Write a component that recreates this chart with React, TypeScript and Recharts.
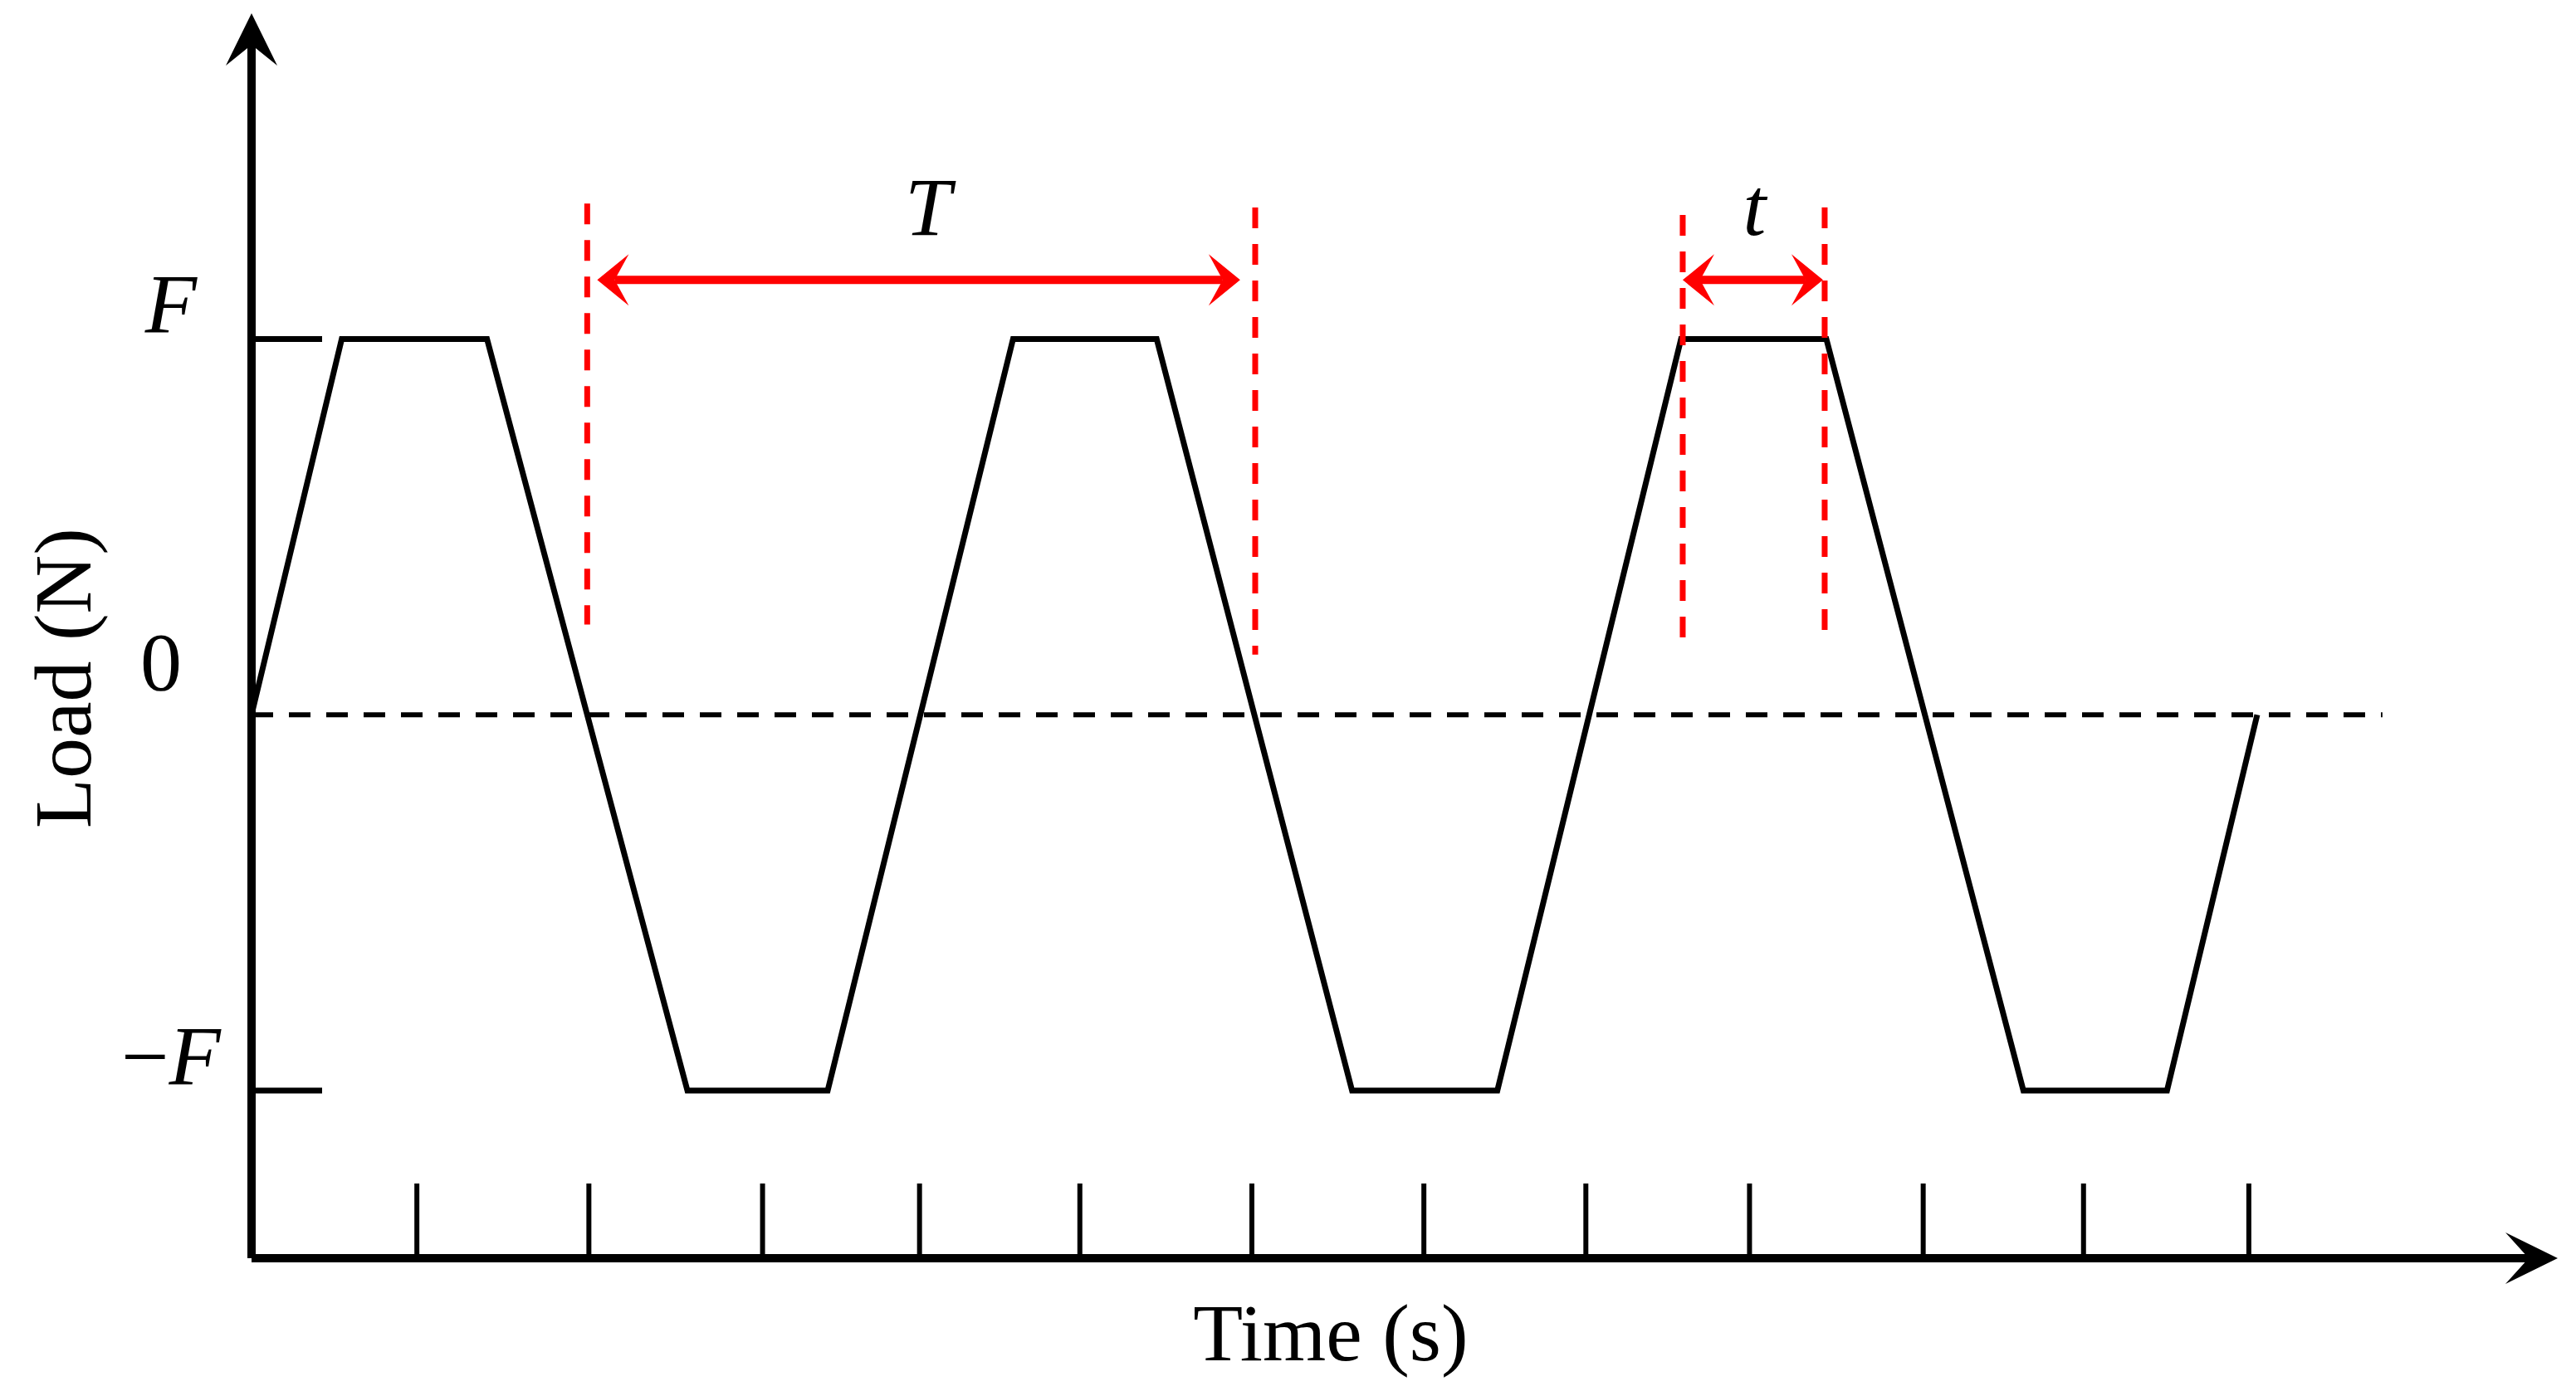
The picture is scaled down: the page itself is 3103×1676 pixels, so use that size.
import { LineChart, Line, XAxis, YAxis, ReferenceLine, ReferenceDot } from 'recharts';

// waveform corners (time in tick units, load in units of F)
const timeX = [0, 0.54, 1.41, 2.61, 3.45, 4.56, 5.42, 6.59, 7.46, 8.56, 9.43, 10.61, 11.47, 12.01];
const loadY = [0, 1, 1, -1, -1, 1, 1, -1, -1, 1, 1, -1, -1, 0];

// hand-drawn tick marks, slightly uneven in the original
const timeTicks = [0.99, 2.02, 3.06, 4.0, 4.96, 5.99, 7.02, 7.99, 8.97, 10.01, 10.97, 11.96];
const loadTicks = [-1, 1];
const loadLabelValues = [1, 0, -1];
const zeroLineEnd = 12.76;

// red dashed guides
const guideX = [2.01, 6.01, 8.57, 9.42];
const guideTop = [1.36, 1.35, 1.33, 1.35];
const guideBottom = [0.24, 0.16, 0.2, 0.2];

// red double arrows T and t
const spanNames = ['T', 't'];
const spanStart = [2.07, 8.57];
const spanEnd = [5.92, 9.41];
const spanY = 1.157;
const spanLabelX = [4.05, 9.0];
const spanLabelY = 1.276;

const xDomain = [0, 13.75];
const yDomain = [-1.446, 1.84];

const data = timeX.map((t, i) => ({ time: t, load: loadY[i] }));

const FONT = '"Liberation Serif", "Times New Roman", serif';
const RED = '#ff0000';

function LoadTick(props: any) {
  const { x, y, payload } = props;
  const v = payload.value;
  if (v === 0) {
    return (
      <text x={x - 109} y={y - 30} textAnchor="middle" fontFamily={FONT} fontSize={100} fill="#000">
        0
      </text>
    );
  }
  return (
    <text x={x - 97} y={y - 7} textAnchor="middle" fontFamily={FONT} fontSize={102} fill="#000">
      {v < 0 && <tspan>−</tspan>}
      <tspan fontStyle="italic">F</tspan>
    </text>
  );
}

function DoubleArrow(props: any) {
  const { x1, y1, x2 } = props;
  const len = 38;
  const half = 31;
  const notch = 21;
  const y = y1;
  return (
    <g>
      <line x1={x1 + notch} y1={y} x2={x2 - notch} y2={y} stroke={RED} strokeWidth={10} />
      <polygon
        points={`${x1},${y} ${x1 + len},${y - half} ${x1 + notch},${y} ${x1 + len},${y + half}`}
        fill={RED}
      />
      <polygon
        points={`${x2},${y} ${x2 - len},${y - half} ${x2 - notch},${y} ${x2 - len},${y + half}`}
        fill={RED}
      />
    </g>
  );
}

function UpArrow(props: any) {
  const { cx, cy } = props;
  const tip = cy - 12;
  return (
    <polygon
      points={`${cx},${tip} ${cx + 31},${tip + 63} ${cx},${tip + 38} ${cx - 31},${tip + 63}`}
      fill="#000"
    />
  );
}

function RightArrow(props: any) {
  const { cx, cy } = props;
  const tip = cx + 12;
  return (
    <polygon
      points={`${tip},${cy} ${tip - 63},${cy - 31} ${tip - 35},${cy} ${tip - 63},${cy + 31}`}
      fill="#000"
    />
  );
}

function SpanLabel(name: string) {
  return (props: any) => (
    <text
      x={props.cx}
      y={props.cy}
      textAnchor="middle"
      fontFamily={FONT}
      fontStyle="italic"
      fontSize={100}
      fill="#000"
    >
      {name}
    </text>
  );
}

export default function App() {
  return (
    <div style={{ position: 'fixed', left: 0, top: 0, width: 3103, height: 1676, background: '#fff' }}>
      <LineChart
        width={3103}
        height={1676}
        data={data}
        margin={{ top: 28, right: 34, bottom: 160, left: 0 }}
      >
        <XAxis
          type="number"
          dataKey="time"
          domain={xDomain}
          allowDataOverflow
          ticks={timeTicks}
          interval={0}
          mirror
          tickSize={90}
          tickLine={{ stroke: '#000', strokeWidth: 6 }}
          axisLine={{ stroke: '#000', strokeWidth: 10 }}
          tickFormatter={() => ''}
        />
        <YAxis
          yAxisId="labels"
          type="number"
          domain={yDomain}
          allowDataOverflow
          ticks={loadLabelValues}
          interval={0}
          width={303}
          axisLine={false}
          tickLine={false}
          tickSize={0}
          tickMargin={0}
          tick={LoadTick}
        />
        <YAxis
          yAxisId="main"
          type="number"
          domain={yDomain}
          allowDataOverflow
          ticks={loadTicks}
          interval={0}
          mirror
          tickSize={85}
          tickLine={{ stroke: '#000', strokeWidth: 7 }}
          axisLine={{ stroke: '#000', strokeWidth: 10 }}
          tickFormatter={() => ''}
        />

        <ReferenceLine
          yAxisId="main"
          segment={[{ x: 0, y: 0 }, { x: zeroLineEnd, y: 0 }]}
          stroke="#000"
          strokeWidth={6}
          strokeDasharray="26 19"
          ifOverflow="visible"
        />

        <Line
          yAxisId="main"
          type="linear"
          dataKey="load"
          stroke="#000"
          strokeWidth={7}
          dot={false}
          activeDot={false}
          isAnimationActive={false}
        />

        {guideX.map((gx, i) => (
          <ReferenceLine
            key={`g${i}`}
            yAxisId="main"
            segment={[{ x: gx, y: guideTop[i] }, { x: gx, y: guideBottom[i] }]}
            stroke={RED}
            strokeWidth={7}
            strokeDasharray="25 19"
            ifOverflow="visible"
          />
        ))}

        {spanNames.map((name, i) => (
          <ReferenceLine
            key={`s${i}`}
            yAxisId="main"
            segment={[{ x: spanStart[i], y: spanY }, { x: spanEnd[i], y: spanY }]}
            ifOverflow="visible"
            shape={DoubleArrow}
          />
        ))}
        {spanNames.map((name, i) => (
          <ReferenceDot
            key={`l${i}`}
            yAxisId="main"
            x={spanLabelX[i]}
            y={spanLabelY}
            ifOverflow="visible"
            shape={SpanLabel(name)}
          />
        ))}

        <ReferenceDot yAxisId="main" x={xDomain[0]} y={yDomain[1]} ifOverflow="visible" shape={UpArrow} />
        <ReferenceDot yAxisId="main" x={xDomain[1]} y={yDomain[0]} ifOverflow="visible" shape={RightArrow} />

        <text
          x={109}
          y={817}
          transform="rotate(-90, 109, 817)"
          textAnchor="middle"
          fontFamily={FONT}
          fontSize={98}
          fill="#000"
        >
          Load (N)
        </text>
        <text x={1603} y={1639} textAnchor="middle" fontFamily={FONT} fontSize={98} fill="#000">
          Time (s)
        </text>
      </LineChart>
    </div>
  );
}
